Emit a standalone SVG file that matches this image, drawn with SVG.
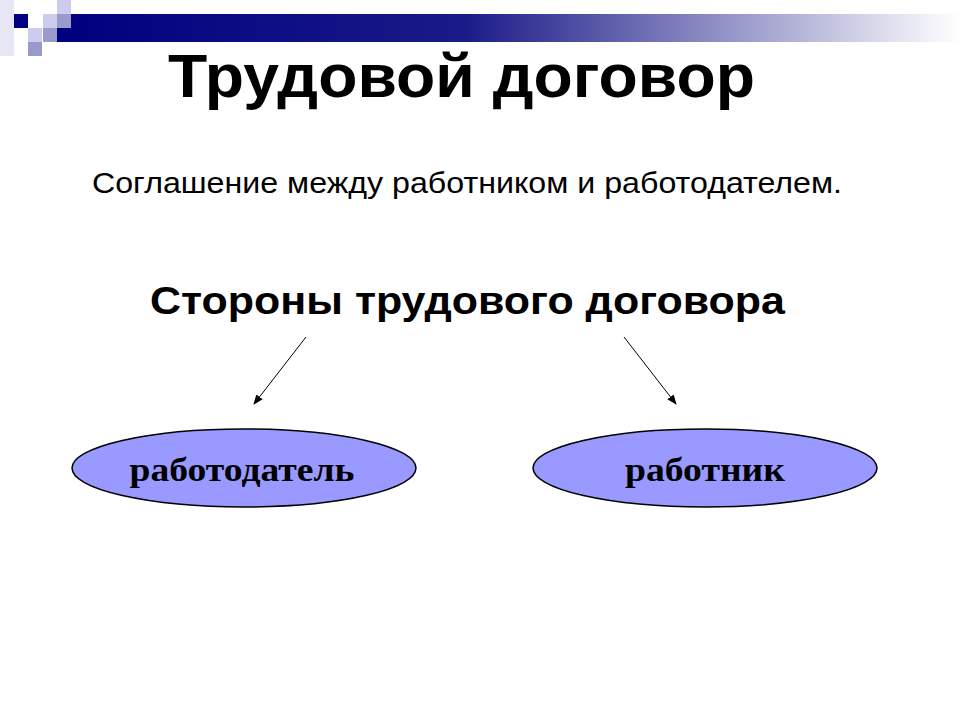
<svg xmlns="http://www.w3.org/2000/svg" width="960" height="720" viewBox="0 0 960 720">
<style>
.s{font-family:"Liberation Sans",Arial,sans-serif}
.n{font-family:"Liberation Serif","Times New Roman",serif;font-weight:bold;font-size:33px;text-anchor:middle}
.e{fill:#9999ff;stroke:#000;stroke-width:1.5}
.c{stroke:#000;stroke-width:1;marker-end:url(#a)}
</style>
<defs>
<linearGradient id="g" x1="0" x2="1"><stop offset="0" stop-color="#000080"/><stop offset="0.45" stop-color="#1a1a88"/><stop offset="1" stop-color="#ffffff"/></linearGradient>
<marker id="a" markerWidth="10" markerHeight="8" refX="9" refY="4" orient="auto" markerUnits="userSpaceOnUse"><path d="M0,0L10,4L0,8z" fill="#000"/></marker>
</defs>
<rect x="0" y="0" width="960" height="720" fill="#fff"/>
<g id="decor">
<rect x="57" y="14" width="903" height="28" fill="url(#g)"/>
<rect x="0" y="0" width="14" height="56" fill="#e6e6f5"/>
<rect x="14" y="14" width="14" height="14" fill="#000080"/>
<rect x="43" y="14" width="14" height="14" fill="#ccccee"/>
<rect x="57" y="0" width="14" height="14" fill="#ccccee"/>
<rect x="57" y="14" width="14" height="14" fill="#9999cc"/>
<rect x="28" y="28" width="14" height="14" fill="#ccccee"/>
<rect x="43" y="28" width="14" height="14" fill="#9999cc"/>
<rect x="28" y="42" width="14" height="14" fill="#9999cc"/>
</g>
<text class="s" x="168" y="97" font-size="62" font-weight="bold" textLength="587" lengthAdjust="spacingAndGlyphs">Трудовой договор</text>
<text class="s" x="92" y="193" font-size="29" textLength="750" lengthAdjust="spacingAndGlyphs">Соглашение между работником и работодателем.</text>
<text class="s" x="150" y="314" font-size="39" font-weight="bold" textLength="635" lengthAdjust="spacingAndGlyphs">Стороны трудового договора</text>
<g id="connectors">
<line class="c" x1="306" y1="337" x2="254" y2="404"/>
<line class="c" x1="624" y1="337" x2="676" y2="404"/>
</g>
<g id="employer">
<ellipse class="e" cx="244" cy="468" rx="172" ry="39"/>
<text class="n" x="242" y="481" textLength="225" lengthAdjust="spacingAndGlyphs">работодатель</text>
</g>
<g id="employee">
<ellipse class="e" cx="705" cy="468" rx="172" ry="39"/>
<text class="n" x="705" y="481" textLength="160" lengthAdjust="spacingAndGlyphs">работник</text>
</g>
</svg>
